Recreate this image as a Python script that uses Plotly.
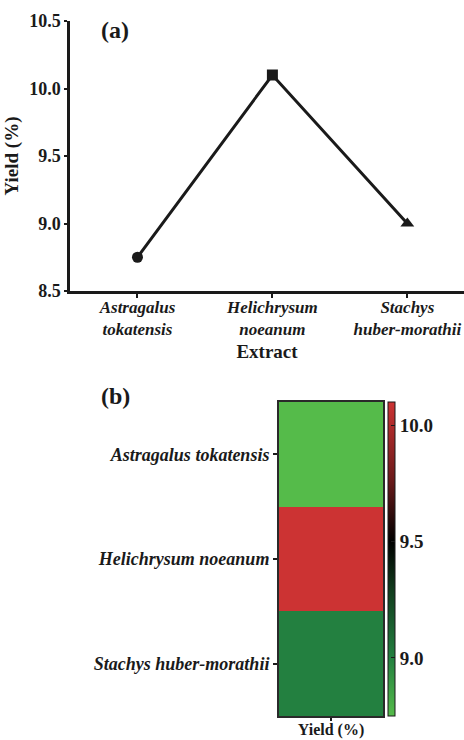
import plotly.graph_objects as go

categories = ["Astragalus tokatensis", "Helichrysum noeanum", "Stachys huber-morathii"]
tick_labels_a = ["Astragalus<br>tokatensis", "Helichrysum<br>noeanum", "Stachys<br>huber-morathii"]
yield_pct = [8.75, 10.1, 9.0]
marker_symbols = ["circle", "square", "triangle-up"]
heat_x = ["Yield (%)"]
y_ticks_a = [8.5, 9.0, 9.5, 10.0, 10.5]
cbar_ticks = [9.0, 9.5, 10.0]

W, H = 464, 740
FONT = "Liberation Serif"
INK = "#1a1a1a"

def px_x(p):
    return p / W

def px_y(p):
    return 1 - p / H

fig = go.Figure()

fig.add_trace(go.Scatter(
    x=categories, y=yield_pct, mode="lines+markers",
    line=dict(color=INK, width=3),
    marker=dict(symbol=marker_symbols, size=[11, 11, 12], color=INK,
                line=dict(color=INK, width=0), opacity=1),
    xaxis="x", yaxis="y", showlegend=False,
))

fig.add_trace(go.Heatmap(
    x=heat_x, y=categories, z=[[v] for v in yield_pct],
    xaxis="x2", yaxis="y2",
    zmin=min(yield_pct), zmax=max(yield_pct),
    colorscale=[
        [0.0, "#55bb4a"],
        [0.185, "#238040"],
        [0.40, "#123d1e"],
        [0.556, "#000000"],
        [0.75, "#6a1a1a"],
        [1.0, "#cc3333"],
    ],
    colorbar=dict(
        x=px_x(388), xanchor="left", xpad=0,
        y=px_y(716), yanchor="bottom", ypad=0,
        len=(716 - 402) / H, lenmode="fraction",
        thickness=7, outlinewidth=1, outlinecolor=INK,
        tickvals=cbar_ticks, ticktext=[f"{v:.1f}" for v in cbar_ticks],
        ticks="inside", ticklen=4, tickcolor=INK,
        tickfont=dict(family=FONT, size=19, color=INK, weight="bold"),
    ),
    showscale=True,
))

fig.update_layout(
    width=W, height=H,
    margin=dict(l=0, r=0, t=0, b=0, autoexpand=False),
    paper_bgcolor="white", plot_bgcolor="white",
    font=dict(family=FONT, color=INK),
    xaxis=dict(
        domain=[px_x(70), 1.0],
        type="category",
        range=[-0.5, 2.42],
        tickvals=categories, ticktext=tick_labels_a,
        tickfont=dict(family=FONT, size=17, color=INK, weight="bold", style="italic"),
        ticklabelstandoff=-5,
        showline=True, linecolor=INK, linewidth=2.5,
        ticks="outside", ticklen=4, tickwidth=1.5, tickcolor=INK,
        showgrid=False, zeroline=False, automargin=False,
        title=dict(text="Extract", font=dict(family=FONT, size=19, color=INK, weight="bold"), standoff=7),
        anchor="y",
    ),
    yaxis=dict(
        domain=[px_y(291), px_y(21)],
        range=[8.5, 10.5],
        tickvals=y_ticks_a, ticktext=[f"{v:.1f}" for v in y_ticks_a],
        tickfont=dict(family=FONT, size=18, color=INK, weight="bold"),
        showline=True, linecolor=INK, linewidth=2.5,
        ticks="outside", ticklen=3, tickwidth=1.5, tickcolor=INK,
        showgrid=False, zeroline=False, automargin=False,
        title=dict(text="Yield (%)", font=dict(family=FONT, size=19, color=INK, weight="bold"), standoff=6),
        anchor="x",
    ),
    xaxis2=dict(
        domain=[px_x(279), px_x(383)],
        anchor="y2",
        showline=True, mirror=True, linecolor="#2a2a2a", linewidth=2,
        ticks="outside", ticklen=3, tickwidth=1.5, tickcolor=INK,
        tickfont=dict(family=FONT, size=16, color=INK, weight="bold"),
        ticklabelstandoff=-5,
        showgrid=False, zeroline=False, automargin=False,
    ),
    yaxis2=dict(
        domain=[px_y(716), px_y(402)],
        anchor="x2",
        autorange="reversed",
        showline=True, mirror=True, linecolor="#2a2a2a", linewidth=2,
        ticks="outside", ticklen=4, tickwidth=1.5, tickcolor=INK,
        tickfont=dict(family=FONT, size=18, color=INK, weight="bold", style="italic"),
        showgrid=False, zeroline=False, automargin=False,
    ),
    annotations=[
        dict(text="(a)", x=px_x(99), y=px_y(30), xref="paper", yref="paper",
             xanchor="left", yanchor="middle", showarrow=False,
             font=dict(family=FONT, size=24, color=INK, weight="bold")),
        dict(text="(b)", x=px_x(99), y=px_y(396), xref="paper", yref="paper",
             xanchor="left", yanchor="middle", showarrow=False,
             font=dict(family=FONT, size=24, color=INK, weight="bold")),
    ],
)

fig.write_html("out.html")
